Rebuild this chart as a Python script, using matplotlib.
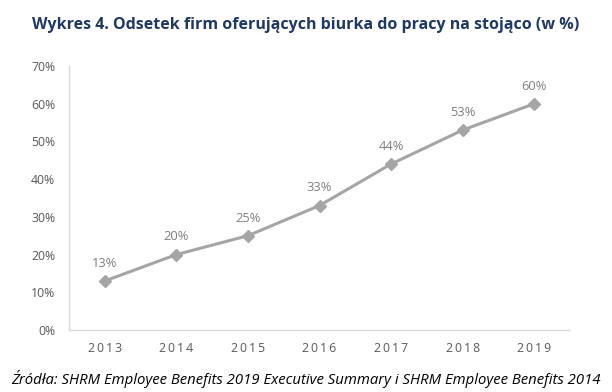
import matplotlib
matplotlib.use('Agg')
import matplotlib.pyplot as plt
from matplotlib.ticker import FuncFormatter

years = ['2013', '2014', '2015', '2016', '2017', '2018', '2019']
values = [13, 20, 25, 33, 44, 53, 60]
yticks = [0, 10, 20, 30, 40, 50, 60, 70]

title = 'Wykres 4. Odsetek firm oferujących biurka do pracy na stojąco (w %)'
source = 'Źródła: SHRM Employee Benefits 2019 Executive Summary i SHRM Employee Benefits 2014'

plt.rcParams['font.family'] = ['Open Sans', 'DejaVu Sans']

fig = plt.figure(figsize=(6.12, 3.92), dpi=100)
ax = fig.add_axes([69 / 612, 62 / 392, 501 / 612, 264 / 392])

x = list(range(len(years)))
ax.plot(x, values, color='#A5A5A5', lw=2.2, marker='D', ms=6,
        mfc='#A5A5A5', mec='#A5A5A5')
for xi, v in zip(x, values):
    ax.annotate(str(v) + '%', (xi, v), xytext=(0, 8), textcoords='offset points',
                ha='center', va='bottom', fontsize=9.3, color='#7F7F7F')

ax.set_xlim(-0.5, len(years) - 0.5)
ax.set_ylim(0, 70)
ax.set_yticks(yticks)
ax.yaxis.set_major_formatter(FuncFormatter(lambda v, p: '%d%%' % v))
ax.set_xticks(x)
spaced = ['\u2009'.join(y) for y in years]
ax.set_xticklabels(spaced)
ax.tick_params(length=0, labelsize=8.8, colors='#595959')
ax.tick_params(axis='x', pad=9)
ax.tick_params(axis='y', pad=10)

for s in ['top', 'right']:
    ax.spines[s].set_visible(False)
for s in ['left', 'bottom']:
    ax.spines[s].set_color('#D9D9D9')
    ax.spines[s].set_linewidth(1)

fig.text(0.5, 1 - 25 / 392, title, ha='center', va='center', fontsize=11.5,
         fontweight='bold', color='#1F3864')
fig.text(0.5, 1 - 379 / 392, source, ha='center', va='center', fontsize=10.7,
         style='italic', color='#000000')

fig.savefig('out.png', dpi=100)
